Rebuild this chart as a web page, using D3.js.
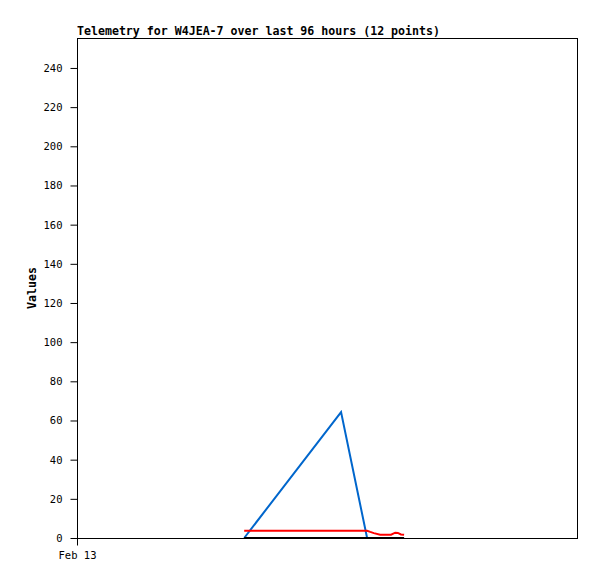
<!DOCTYPE html>
<html>
<head>
<meta charset="utf-8">
<script src="https://cdn.jsdelivr.net/npm/d3@7"></script>
<style>
  body { margin:0; background:#fff; }
  svg { display:block; }
  text { font-family:"DejaVu Sans Mono", monospace; }
</style>
</head>
<body>
<svg id="chart" width="597" height="579"></svg>
<script>
// telemetry samples, hours after Feb 13 00:00
const hours = [32.1, 50.7, 55.7, 56.3, 57.0, 58.2, 59.1, 60.3, 61.1, 61.6, 62.2, 62.8];
const blueVals = [0, 64.3, 0, 0, 0, 0, 0, 0, 0, 0, 0, 0];
const redVals  = [3.7, 3.7, 3.7, 3.1, 2.5, 1.7, 1.7, 1.7, 2.7, 2.6, 1.8, 1.6];
const blackVals = [0, 0, 0, 0, 0, 0, 0, 0, 0, 0, 0, 0];
const yTicks = [0, 20, 40, 60, 80, 100, 120, 140, 160, 180, 200, 220, 240];
const start = new Date(2024, 1, 13, 0, 0);
const xTickDates = [start];

const svg = d3.select('#chart');
const m = { left:77, top:38, right:20, bottom:41 };
const W = 597, H = 579;
const pw = W - m.left - m.right, ph = H - m.top - m.bottom;

const x = d3.scaleTime()
  .domain([start, d3.timeHour.offset(start, 96)])
  .range([m.left, m.left + pw]);
const y = d3.scaleLinear().domain([0, 255.3]).range([m.top + ph, m.top]);

const toDate = h => new Date(start.getTime() + h * 3600e3);

// title
svg.append('text').attr('x', m.left).attr('y', 35)
  .attr('font-size','11.6px').attr('font-weight','bold').attr('fill','#000')
  .text('Telemetry for W4JEA-7 over last 96 hours (12 points)');

// series
const series = [
  { vals: blueVals, color:'#0066cc' },
  { vals: redVals, color:'#ff0000' },
  { vals: blackVals, color:'#000000' }
];
series.forEach(s => {
  const line = d3.line().x((d,i) => x(toDate(hours[i]))).y(d => y(d));
  svg.append('path').datum(s.vals)
    .attr('fill','none').attr('stroke', s.color).attr('stroke-width', 2)
    .attr('d', line);
});

// frame
svg.append('rect').attr('x', m.left + 0.5).attr('y', m.top + 0.5)
  .attr('width', pw).attr('height', ph)
  .attr('fill','none').attr('stroke','#000').attr('stroke-width',1);

// y axis
const gy = svg.append('g').attr('transform', `translate(${m.left + 0.5},0)`)
  .call(d3.axisLeft(y).tickValues(yTicks).tickSize(7).tickPadding(8).tickFormat(d3.format('d')));
gy.select('.domain').remove();
gy.selectAll('text').attr('font-family','"DejaVu Sans Mono", monospace').attr('font-size','10.5px').attr('fill','#000');

// x axis
const gx = svg.append('g').attr('transform', `translate(0,${m.top + ph + 0.5})`)
  .call(d3.axisBottom(x).tickValues(xTickDates).tickSize(7).tickPadding(6).tickFormat(d3.timeFormat('%b %d')));
gx.select('.domain').remove();
gx.selectAll('text').attr('font-family','"DejaVu Sans Mono", monospace').attr('font-size','10.5px').attr('fill','#000');

// y label
svg.append('text')
  .attr('transform', `translate(36,${m.top + ph/2}) rotate(-90)`)
  .attr('text-anchor','middle').attr('font-size','11.6px').attr('font-weight','bold')
  .text('Values');
</script>
</body>
</html>
